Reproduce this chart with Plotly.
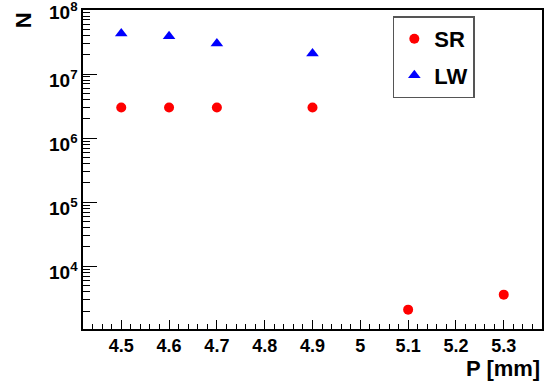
import plotly.graph_objects as go
import math

# Data
p_sr = [4.5, 4.6, 4.7, 4.9, 5.1, 5.3]
n_sr = [3.0e6, 3.0e6, 3.0e6, 3.0e6, 2100, 3600]
p_lw = [4.5, 4.6, 4.7, 4.9]
n_lw = [4.3e7, 3.9e7, 3.0e7, 2.1e7]

x_tickvals = [4.5, 4.6, 4.7, 4.8, 4.9, 5.0, 5.1, 5.2, 5.3]
x_ticktext = ["4.5", "4.6", "4.7", "4.8", "4.9", "5", "5.1", "5.2", "5.3"]
y_tickvals = [1e4, 1e5, 1e6, 1e7, 1e8]
y_ticktext = ["10<sup>4</sup>", "10<sup>5</sup>", "10<sup>6</sup>", "10<sup>7</sup>", "10<sup>8</sup>"]

FONT = "Liberation Sans"
Y_TOP = 8.0

fig = go.Figure()
fig.add_trace(go.Scatter(
    x=p_sr, y=n_sr, mode="markers", name="SR", legendgroup="a",
    marker=dict(symbol="circle", size=10, color="#ff0000"),
))
fig.add_trace(go.Scatter(
    x=p_lw, y=n_lw, mode="markers", name="LW", legendgroup="b",
    marker=dict(symbol="triangle-up", size=11, color="#0000ff"),
))

# y tick labels drawn as annotations so they can sit like ROOT's labels
ann = []
for v, t in zip(y_tickvals, y_ticktext):
    lv = math.log10(v)
    ann.append(dict(
        text=t, xref="paper", yref="y", x=0, y=lv,
        xanchor="right", yanchor="middle", xshift=-3,
        yshift=(-1 if lv >= Y_TOP else -5), showarrow=False,
        font=dict(family=FONT, size=19, weight="bold", color="black"),
    ))

ann += [
    dict(text="P [mm]", xref="paper", yref="paper", x=1.0, y=-0.125,
         xanchor="right", yanchor="middle", showarrow=False,
         font=dict(family=FONT, size=22, weight="bold", color="black")),
    dict(text="N", xref="paper", yref="paper", x=-0.13, y=1.0,
         xanchor="center", yanchor="top", textangle=-90, showarrow=False,
         font=dict(family=FONT, size=22, weight="bold", color="black")),
]

fig.update_layout(
    width=544, height=383,
    margin=dict(l=83, r=2, t=10, b=54, autoexpand=False),
    paper_bgcolor="white", plot_bgcolor="white",
    font=dict(family=FONT, color="black"),
    showlegend=True,
    legend=dict(
        x=0.675, y=0.98, xanchor="left", yanchor="top",
        bgcolor="white", bordercolor="#555555", borderwidth=1.5,
        font=dict(family=FONT, size=22, weight="bold", color="black"),
        tracegroupgap=5,
    ),
    xaxis=dict(
        range=[4.42, 5.38], showgrid=False, zeroline=False, automargin=False,
        showline=True, linecolor="black", linewidth=1.5, mirror=True,
        tickmode="array", tickvals=x_tickvals, ticktext=x_ticktext,
        ticks="inside", ticklen=9, tickcolor="black", tickwidth=1,
        tickfont=dict(family=FONT, size=18, weight="bold", color="black"),
        minor=dict(ticks="inside", ticklen=5, dtick=0.02, tick0=4.5, tickcolor="black", showgrid=False),
    ),
    yaxis=dict(
        type="log", range=[3.02, Y_TOP], showgrid=False, zeroline=False, automargin=False,
        showline=True, linecolor="black", linewidth=1.5, mirror=True,
        tickmode="array", tickvals=y_tickvals, showticklabels=False,
        ticks="inside", ticklen=14, tickcolor="black", tickwidth=1,
        minor=dict(ticks="inside", ticklen=7, dtick="D1", tickcolor="black", showgrid=False),
    ),
    annotations=ann,
)

fig.write_html("out.html", config={"displayModeBar": False},
               post_script="document.body.style.margin='0';document.body.style.padding='0';")
